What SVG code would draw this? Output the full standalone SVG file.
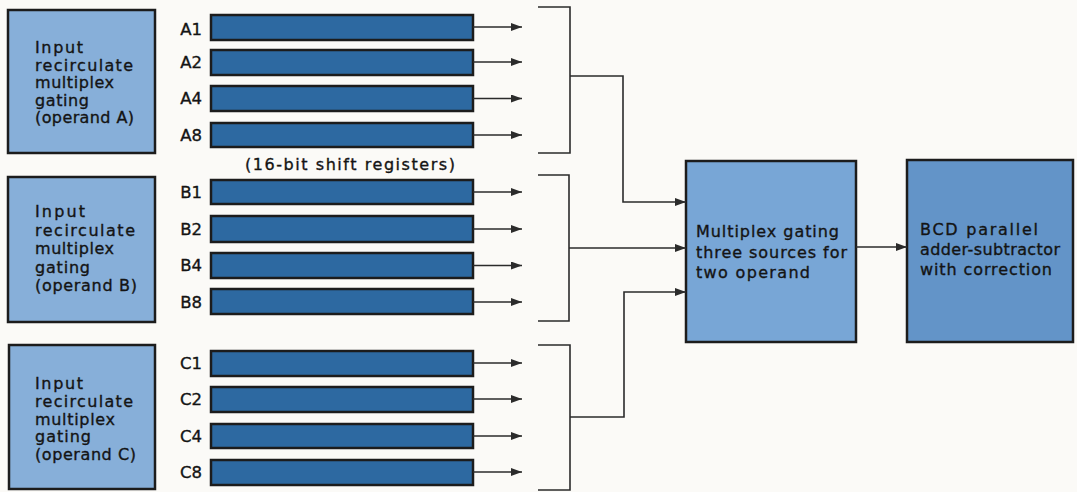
<svg xmlns="http://www.w3.org/2000/svg" width="1077" height="492" viewBox="0 0 1077 492">
<defs>
<marker id="ah" viewBox="0 0 11 8" refX="11" refY="4" markerWidth="11" markerHeight="8" markerUnits="userSpaceOnUse" orient="auto">
<path d="M0,0 L11,4 L0,8 Z" fill="#2b2b2b"/>
</marker>
<style>
.in{fill:#87afd9;stroke:#1c1c1c;stroke-width:2.5}
.reg{fill:#2d69a1;stroke:#1c1c1c;stroke-width:2.5}
.mux{fill:#78a6d6;stroke:#1c1c1c;stroke-width:2.5}
.add{fill:#6394c8;stroke:#1c1c1c;stroke-width:2.5}
.t{font-family:"DejaVu Sans",sans-serif;font-size:16px;fill:#141414;stroke:#141414;stroke-width:0.35}
.lbl{font-family:"DejaVu Sans",sans-serif;font-size:16.5px;fill:#141414;stroke:#141414;stroke-width:0.35;text-anchor:end}
.w{fill:none;stroke:#2b2b2b;stroke-width:1.6}
.a{fill:none;stroke:#2b2b2b;stroke-width:1.6;marker-end:url(#ah)}
</style>
</defs>
<rect width="1077" height="492" fill="#fbfaf7"/>

<g id="inputA">
<rect class="in" x="8" y="10" width="147" height="143"/>
<text class="t" x="35" y="53" textLength="48" lengthAdjust="spacing">Input</text>
<text class="t" x="35" y="70.5" textLength="98" lengthAdjust="spacing">recirculate</text>
<text class="t" x="35" y="88" textLength="79" lengthAdjust="spacing">multiplex</text>
<text class="t" x="35" y="105.5" textLength="54" lengthAdjust="spacing">gating</text>
<text class="t" x="35" y="123" textLength="99" lengthAdjust="spacing">(operand A)</text>
</g>
<g id="inputB">
<rect class="in" x="8" y="177" width="147" height="145"/>
<text class="t" x="35" y="217" textLength="50" lengthAdjust="spacing">Input</text>
<text class="t" x="35" y="235.5" textLength="100" lengthAdjust="spacing">recirculate</text>
<text class="t" x="35" y="254" textLength="79" lengthAdjust="spacing">multiplex</text>
<text class="t" x="35" y="272.5" textLength="55" lengthAdjust="spacing">gating</text>
<text class="t" x="35" y="291" textLength="102" lengthAdjust="spacing">(operand B)</text>
</g>
<g id="inputC">
<rect class="in" x="9" y="345" width="146" height="144"/>
<text class="t" x="35" y="389" textLength="48" lengthAdjust="spacing">Input</text>
<text class="t" x="35" y="407" textLength="98" lengthAdjust="spacing">recirculate</text>
<text class="t" x="35" y="424.5" textLength="80" lengthAdjust="spacing">multiplex</text>
<text class="t" x="35" y="442" textLength="56" lengthAdjust="spacing">gating</text>
<text class="t" x="35" y="460" textLength="101" lengthAdjust="spacing">(operand C)</text>
</g>

<g id="registersA">
<rect class="reg" x="211" y="15" width="262" height="25"/>
<rect class="reg" x="211" y="50" width="262" height="25"/>
<rect class="reg" x="211" y="86" width="262" height="25"/>
<rect class="reg" x="211" y="123" width="262" height="24"/>
<text class="lbl" x="202" y="35">A1</text>
<text class="lbl" x="202" y="68">A2</text>
<text class="lbl" x="202" y="104">A4</text>
<text class="lbl" x="202" y="141">A8</text>
</g>
<g id="caption">
<text class="t" x="350" y="170" text-anchor="middle" textLength="210" lengthAdjust="spacing">(16-bit shift registers)</text>
</g>
<g id="registersB">
<rect class="reg" x="211" y="180" width="262" height="24"/>
<rect class="reg" x="211" y="216" width="262" height="26"/>
<rect class="reg" x="211" y="253" width="262" height="25"/>
<rect class="reg" x="211" y="289" width="262" height="25"/>
<text class="lbl" x="202" y="198">B1</text>
<text class="lbl" x="202" y="235">B2</text>
<text class="lbl" x="202" y="271">B4</text>
<text class="lbl" x="202" y="308">B8</text>
</g>
<g id="registersC">
<rect class="reg" x="211" y="351" width="262" height="25"/>
<rect class="reg" x="211" y="387" width="262" height="25"/>
<rect class="reg" x="211" y="424" width="262" height="24"/>
<rect class="reg" x="211" y="460" width="262" height="25"/>
<text class="lbl" x="202" y="369">C1</text>
<text class="lbl" x="202" y="405">C2</text>
<text class="lbl" x="202" y="442">C4</text>
<text class="lbl" x="202" y="478">C8</text>
</g>

<g id="mux">
<rect class="mux" x="686" y="161" width="170" height="181"/>
<text class="t" x="696" y="237" textLength="143" lengthAdjust="spacing">Multiplex gating</text>
<text class="t" x="696" y="257.5" textLength="151" lengthAdjust="spacing">three sources for</text>
<text class="t" x="696" y="278" textLength="114" lengthAdjust="spacing">two operand</text>
</g>
<g id="adder">
<rect class="add" x="907" y="160" width="166" height="182"/>
<text class="t" x="920" y="235" textLength="118" lengthAdjust="spacing">BCD parallel</text>
<text class="t" x="920" y="255" textLength="140" lengthAdjust="spacing">adder-subtractor</text>
<text class="t" x="920" y="275" textLength="132" lengthAdjust="spacing">with correction</text>
</g>

<g id="connectors">
<path class="a" d="M473,27 H522"/>
<path class="a" d="M473,62 H522"/>
<path class="a" d="M473,98.5 H522"/>
<path class="a" d="M473,135 H522"/>
<path class="a" d="M473,192 H522"/>
<path class="a" d="M473,229 H522"/>
<path class="a" d="M473,265.5 H522"/>
<path class="a" d="M473,302 H522"/>
<path class="a" d="M473,363 H522"/>
<path class="a" d="M473,399 H522"/>
<path class="a" d="M473,436 H522"/>
<path class="a" d="M473,472 H522"/>
<path class="w" d="M538,7 H570 V153 H538"/>
<path class="w" d="M538,175 H569 V321 H538"/>
<path class="w" d="M538,345 H570 V490 H538"/>
<path class="a" d="M570,76 H623 V202 H686"/>
<path class="a" d="M569,248 H686"/>
<path class="a" d="M570,417 H624 V292 H686"/>
<path class="a" d="M856,247 H907"/>
</g>
</svg>
